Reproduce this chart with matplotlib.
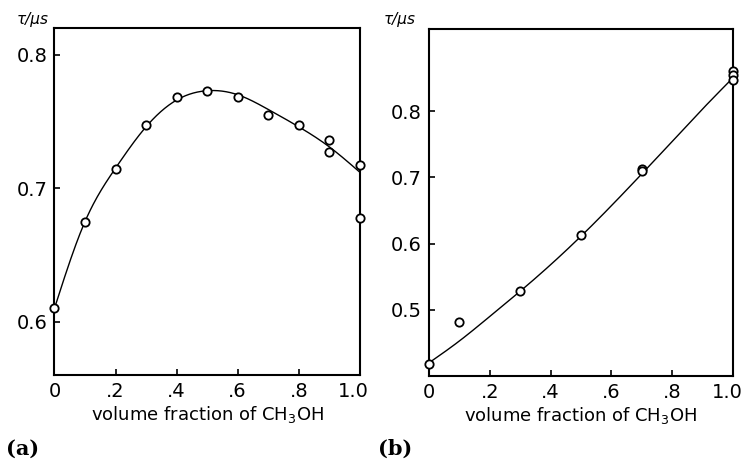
import numpy as np
import matplotlib
matplotlib.use("Agg")
import matplotlib.pyplot as plt
from matplotlib.transforms import ScaledTranslation

# ---- data (a) ----
a_x = [0.0, 0.1, 0.2, 0.3, 0.4, 0.5, 0.6, 0.7, 0.8, 0.9, 0.9, 1.0, 1.0]
a_y = [0.610, 0.675, 0.714, 0.747, 0.768, 0.773, 0.768, 0.755, 0.747, 0.736, 0.727, 0.717, 0.678]
a_curve_x = [0.0, 0.1, 0.2, 0.3, 0.4, 0.5, 0.6, 0.7, 0.8, 0.9, 1.0]
a_curve_y = [0.610, 0.675, 0.715, 0.746, 0.766, 0.773, 0.770, 0.759, 0.746, 0.731, 0.712]

# ---- data (b) ----
b_x = [0.0, 0.1, 0.3, 0.5, 0.7, 0.7, 1.0, 1.0, 1.0]
b_y = [0.418, 0.482, 0.529, 0.613, 0.713, 0.709, 0.861, 0.855, 0.847]
b_curve_x = [0.0, 0.1, 0.2, 0.3, 0.4, 0.5, 0.6, 0.7, 0.8, 0.9, 1.0]
b_curve_y = [0.420, 0.453, 0.490, 0.528, 0.568, 0.611, 0.657, 0.705, 0.754, 0.803, 0.850]

x_ticks = [0, 0.2, 0.4, 0.6, 0.8, 1.0]
x_ticklabels = ["0", ".2", ".4", ".6", ".8", "1.0"]
a_yticks = [0.6, 0.7, 0.8]
b_yticks = [0.5, 0.6, 0.7, 0.8]


def natural_spline(xk, yk, xs):
    xk = np.asarray(xk, float); yk = np.asarray(yk, float)
    n = len(xk)
    h = np.diff(xk)
    A = np.zeros((n, n)); r = np.zeros(n)
    A[0, 0] = 1; A[-1, -1] = 1
    for i in range(1, n - 1):
        A[i, i - 1] = h[i - 1]
        A[i, i] = 2 * (h[i - 1] + h[i])
        A[i, i + 1] = h[i]
        r[i] = 3 * ((yk[i + 1] - yk[i]) / h[i] - (yk[i] - yk[i - 1]) / h[i - 1])
    c = np.linalg.solve(A, r)
    b = (yk[1:] - yk[:-1]) / h - h * (2 * c[:-1] + c[1:]) / 3
    d = (c[1:] - c[:-1]) / (3 * h)
    idx = np.clip(np.searchsorted(xk, xs) - 1, 0, n - 2)
    dx = xs - xk[idx]
    return yk[idx] + b[idx] * dx + c[idx] * dx ** 2 + d[idx] * dx ** 3


plt.rcParams['font.family'] = ['DejaVu Sans']
fig = plt.figure(figsize=(7.41, 4.66), dpi=100)
ax_a = fig.add_axes([0.0735, 0.195, 0.412, 0.745])
ax_b = fig.add_axes([0.579, 0.193, 0.410, 0.745])

xs = np.linspace(0, 1, 300)

for ax, px, py, cx, cy, yt, ylim in [
    (ax_a, a_x, a_y, a_curve_x, a_curve_y, a_yticks, (0.56, 0.82)),
    (ax_b, b_x, b_y, b_curve_x, b_curve_y, b_yticks, (0.40, 0.924)),
]:
    ax.plot(xs, natural_spline(cx, cy, xs), color='black', lw=1.0, zorder=2)
    ax.plot(px, py, 'o', ms=6, mfc='white', mec='black', mew=1.3,
            clip_on=False, zorder=3, linestyle='none')
    ax.set_xlim(0, 1.0)
    ax.set_ylim(*ylim)
    ax.set_xticks(x_ticks)
    ax.set_xticklabels(x_ticklabels)
    ax.set_yticks(yt)
    ax.set_yticklabels([f"{v:.1f}" for v in yt])
    ax.tick_params(direction='in', length=4, width=1.2, labelsize=14, pad=5)
    for s in ax.spines.values():
        s.set_linewidth(1.5)
    ax.set_xlabel("volume fraction of CH$_3$OH", fontsize=13, labelpad=2)
    # the last label "1.0" sits slightly left of its tick, as in the reference
    last = ax.get_xticklabels()[-1]
    last.set_transform(last.get_transform() + ScaledTranslation(-6 / 100, 0, fig.dpi_scale_trans))

fig.text(0.023, 0.942, "τ/μs", fontsize=11, ha='left', va='bottom', style='italic')
fig.text(0.518, 0.942, "τ/μs", fontsize=11, ha='left', va='bottom', style='italic')

fig.text(0.008, 0.038, "(a)", fontsize=15, fontweight='bold', family='DejaVu Serif',
         ha='left', va='center')
fig.text(0.510, 0.038, "(b)", fontsize=15, fontweight='bold', family='DejaVu Serif',
         ha='left', va='center')

fig.savefig("out.png", dpi=100)
